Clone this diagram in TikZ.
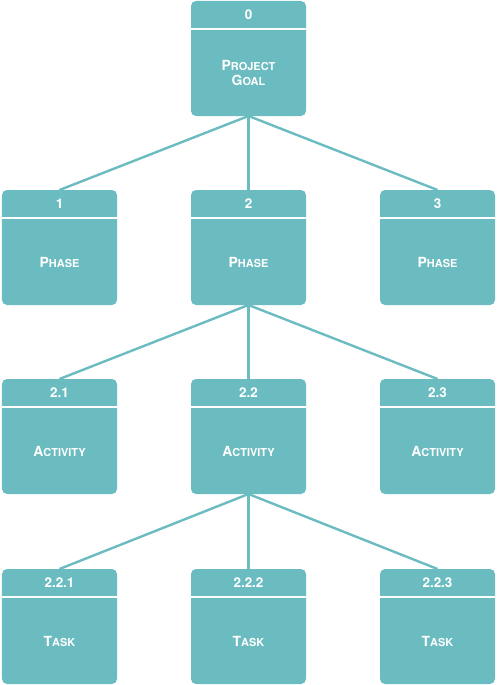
\documentclass[tikz,border=0pt]{standalone}
\usepackage{fontspec}
\setmainfont{TeX Gyre Heros}
\definecolor{teal1}{HTML}{6BBCC1}
\newcommand{\bigc}[1]{{\fontsize{14}{16}\selectfont #1}}
\newcommand{\numc}[1]{{\fontsize{13.5}{16}\selectfont #1}}
\newcommand{\smc}[1]{{\fontsize{11}{16}\selectfont #1}}
\begin{document}
\begin{tikzpicture}[x=1bp,y=-1bp,
  wbox/.style={draw=none,fill=teal1,rounded corners=5bp,minimum width=115bp,minimum height=115bp,inner sep=0pt,outer sep=0pt},
  lbl/.style={text=white,font=\bfseries,align=center,inner sep=0pt},
  conn/.style={draw=teal1,line width=2.4bp}]
\useasboundingbox (0,0) rectangle (497,685);
\newcommand{\wbs}[5]{% name, cx, top, number, label
  \node[wbox,anchor=north] (#1) at (#2,#3) {};
  \draw[white,line width=1.6bp] ([yshift=-28bp]#1.north west) -- ([yshift=-28bp]#1.north east);
  \node[lbl] (#1n) at ([yshift=-14bp]#1.north) {\numc{#4}};
  \node[lbl] (#1l) at ([yshift=-14.5bp]#1.center) {#5};
}
\wbs{g}{248.5}{1}{0}{\bigc{P}\smc{ROJECT}\\[3pt]\bigc{G}\smc{OAL}}
\wbs{p1}{59.5}{190}{1}{\bigc{P}\smc{HASE}}
\wbs{p2}{248.5}{190}{2}{\bigc{P}\smc{HASE}}
\wbs{p3}{437.5}{190}{3}{\bigc{P}\smc{HASE}}
\wbs{a1}{59.5}{379}{2.1}{\bigc{A}\smc{CTIVITY}}
\wbs{a2}{248.5}{379}{2.2}{\bigc{A}\smc{CTIVITY}}
\wbs{a3}{437.5}{379}{2.3}{\bigc{A}\smc{CTIVITY}}
\wbs{t1}{59.5}{569}{2.2.1}{\bigc{T}\smc{ASK}}
\wbs{t2}{248.5}{569}{2.2.2}{\bigc{T}\smc{ASK}}
\wbs{t3}{437.5}{569}{2.2.3}{\bigc{T}\smc{ASK}}
\draw[conn] (g.south) -- (p1.north);
\draw[conn] (g.south) -- (p2.north);
\draw[conn] (g.south) -- (p3.north);
\draw[conn] (p2.south) -- (a1.north);
\draw[conn] (p2.south) -- (a2.north);
\draw[conn] (p2.south) -- (a3.north);
\draw[conn] (a2.south) -- (t1.north);
\draw[conn] (a2.south) -- (t2.north);
\draw[conn] (a2.south) -- (t3.north);
\end{tikzpicture}
\end{document}
